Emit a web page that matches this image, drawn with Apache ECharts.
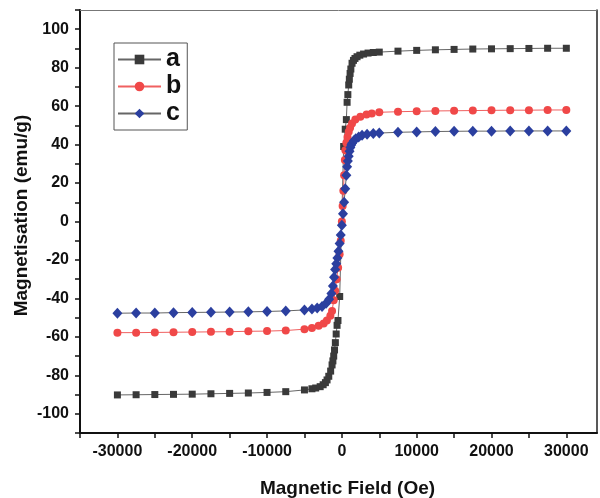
<!DOCTYPE html>
<html>
<head>
<meta charset="utf-8">
<script src="https://cdn.jsdelivr.net/npm/echarts@6/dist/echarts.min.js"></script>
<style>html,body{margin:0;padding:0;background:#fff}#c{width:600px;height:498px}</style>
</head>
<body>
<div id="c"></div>
<script>
var seriesNames = ['a', 'b', 'c'];
var xTickLabels = ['-30000', '-20000', '-10000', '0', '10000', '20000', '30000'];
var yTickLabels = ['-100', '-80', '-60', '-40', '-20', '0', '20', '40', '60', '80', '100'];

var fieldA = [-30000,-27500,-25000,-22500,-20000,-17500,-15000,-12500,-10000,-7500,-5000,
  -4000,-3500,-2900,-2500,-2200,-1980,-1750,-1500,-1310,-1200,-1090,-980,-870,-760,-640,-520,-290,
  240,450,600,700,800,915,1000,1100,1200,1360,1550,1750,2030,2400,2900,3500,4200,5000,
  7500,10000,12500,15000,17500,20000,22500,25000,27500,30000];
var magA = [-90.2,-90.1,-90.0,-89.9,-89.8,-89.6,-89.4,-89.2,-88.9,-88.5,-87.6,
  -87.0,-86.6,-85.9,-84.9,-83.8,-82.4,-80.5,-77.8,-74.6,-72.5,-70.0,-66.8,-63.0,-58.5,-54.0,-51.5,-39.0,
  39.0,48.0,53.0,62.0,66.0,71.0,74.0,77.0,79.3,82.3,83.8,84.8,85.7,86.5,87.1,87.6,87.9,88.1,
  88.6,89.0,89.3,89.5,89.7,89.8,89.9,90.0,90.1,90.1];

var fieldB = [-30000,-27500,-25000,-22500,-20000,-17500,-15000,-12500,-10000,-7500,-5000,
  -4000,-3100,-2430,-2000,-1540,-1310,-1090,-900,-700,-500,-300,-150,
  0,100,200,300,400,470,600,750,915,1100,1360,1800,2470,3300,4000,5000,
  7500,10000,12500,15000,17500,20000,22500,25000,27500,30000];
var magB = [-57.8,-57.8,-57.7,-57.6,-57.5,-57.4,-57.3,-57.1,-57.0,-56.7,-56.0,
  -55.4,-54.2,-53.0,-51.5,-49.0,-46.5,-41.0,-36.0,-30.0,-24.0,-17.0,-10.0,
  0.0,8.0,16.0,24.0,32.0,37.0,41.0,44.0,46.7,48.8,51.0,53.0,54.5,55.6,56.2,56.8,
  57.1,57.3,57.5,57.6,57.7,57.8,57.9,57.9,58.0,58.0];

var fieldC = [-30000,-27500,-25000,-22500,-20000,-17500,-15000,-12500,-10000,-7500,-5000,
  -4000,-3300,-2650,-2100,-1700,-1400,-1200,-1050,-900,-750,-600,-450,-300,-150,
  0,150,300,450,600,700,800,915,1030,1140,1250,1360,1600,1850,2250,2700,3370,4200,5000,
  7500,10000,12500,15000,17500,20000,22500,25000,27500,30000];
var magC = [-47.7,-47.6,-47.6,-47.4,-47.3,-47.2,-47.1,-47.0,-46.8,-46.5,-46.0,
  -45.5,-45.0,-44.2,-42.5,-40.5,-37.5,-33.5,-29.0,-25.0,-22.0,-19.0,-15.5,-11.5,-7.0,
  -2.0,4.0,10.0,17.0,24.0,28.5,31.5,34.0,36.5,38.5,39.8,40.7,42.0,43.0,44.0,44.8,45.4,45.8,46.0,
  46.4,46.6,46.8,46.9,47.0,47.0,47.1,47.1,47.1,47.1];

function pairs(xs, ys) { return xs.map(function (x, i) { return [x, ys[i]]; }); }

var FONT = '"Liberation Sans", Arial, sans-serif';
var chart = echarts.init(document.getElementById('c'), null, { renderer: 'canvas' });

chart.setOption({
  animation: false,
  backgroundColor: '#fff',
  grid: { left: 80, right: 3, top: 10, bottom: 65, show: false, containLabel: false, outerBoundsMode: 'none' },
  legend: {
    data: seriesNames,
    orient: 'vertical',
    left: 114, top: 43,
    padding: [4, 6, 4, 3],
    itemWidth: 43, itemHeight: 12, itemGap: 2,
    borderColor: '#555', borderWidth: 1,
    textStyle: { fontFamily: FONT, fontWeight: 'bold', fontSize: 25, color: '#111', lineHeight: 23 }
  },
  xAxis: [{
    type: 'value', min: -35000, max: 34100, interval: 5000,
    name: 'Magnetic Field (Oe)', nameLocation: 'middle', nameGap: 46, nameMoveOverlap: false,
    nameTextStyle: { fontFamily: FONT, fontWeight: 'bold', fontSize: 19, color: '#111', padding: [0, 0, 0, 18] },
    axisLine: { onZero: false, lineStyle: { color: '#111', width: 2 } },
    axisTick: { inside: false, length: 5, lineStyle: { color: '#111', width: 1.5 } },
    axisLabel: {
      margin: 11, fontFamily: FONT, fontWeight: 'bold', fontSize: 16, color: '#111',
      showMaxLabel: false,
      formatter: function (v) { var s = String(v); return xTickLabels.indexOf(s) >= 0 ? s : ''; }
    },
    splitLine: { show: false }
  }, {
    type: 'value', position: 'top', min: -35000, max: 34100,
    axisLine: { show: true, onZero: false, lineStyle: { color: '#777', width: 1 } },
    axisTick: { show: false }, axisLabel: { show: false }, splitLine: { show: false }
  }],
  yAxis: [{
    type: 'value', min: -110, max: 110, interval: 10,
    name: 'Magnetisation (emu/g)', nameLocation: 'middle', nameGap: 49, nameMoveOverlap: false,
    nameTextStyle: { fontFamily: FONT, fontWeight: 'bold', fontSize: 19, color: '#111', padding: [0, 0, 0, 12] },
    axisLine: { show: true, onZero: false, lineStyle: { color: '#111', width: 2 } },
    axisTick: { inside: false, length: 5, lineStyle: { color: '#111', width: 1.5 } },
    axisLabel: {
      margin: 11, fontFamily: FONT, fontWeight: 'bold', fontSize: 16, color: '#111',
      formatter: function (v) { var s = String(v); return yTickLabels.indexOf(s) >= 0 ? s : ''; }
    },
    splitLine: { show: false }
  }, {
    type: 'value', position: 'right', min: -110, max: 110,
    axisLine: { show: true, onZero: false, lineStyle: { color: '#222', width: 1.5 } },
    axisTick: { show: false }, axisLabel: { show: false }, splitLine: { show: false }
  }],
  series: [{
    name: 'a', type: 'line', data: pairs(fieldA, magA),
    symbol: 'rect', symbolSize: 7,
    itemStyle: { color: '#3a3a3a' },
    lineStyle: { color: '#666', width: 1 }
  }, {
    name: 'b', type: 'line', data: pairs(fieldB, magB),
    symbol: 'circle', symbolSize: 8,
    itemStyle: { color: '#f04848' },
    lineStyle: { color: '#f06060', width: 1 }
  }, {
    name: 'c', type: 'line', data: pairs(fieldC, magC),
    symbol: 'diamond', symbolSize: [10, 11],
    itemStyle: { color: '#2b3f9f' },
    lineStyle: { color: '#666', width: 1 }
  }]
});
</script>
</body>
</html>
